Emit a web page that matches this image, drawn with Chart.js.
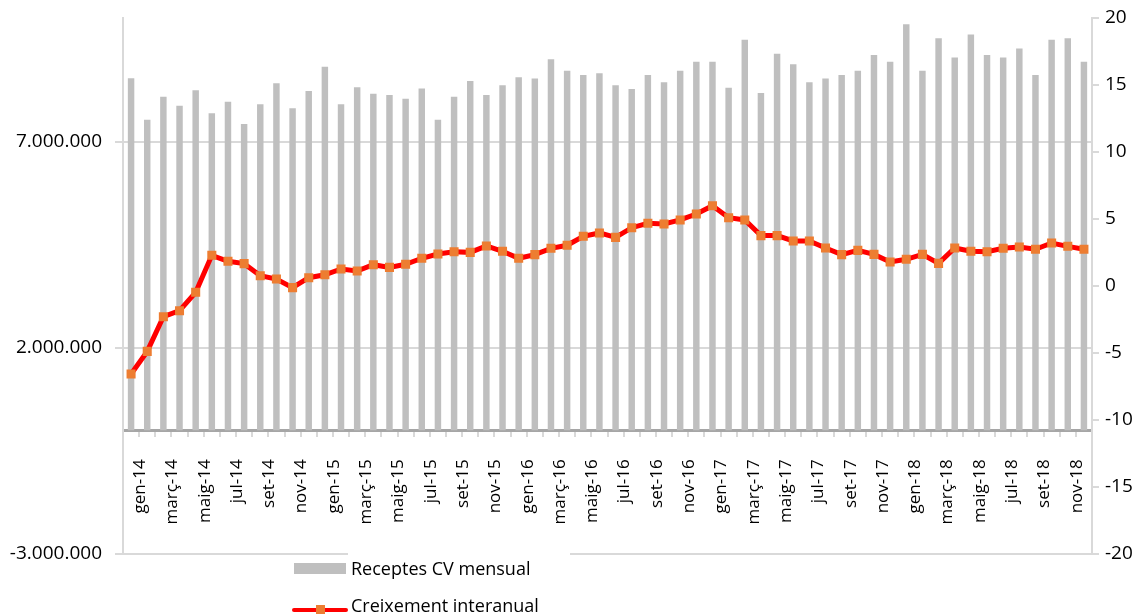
<!DOCTYPE html>
<html>
<head>
<meta charset="utf-8">
<script src="https://cdn.jsdelivr.net/npm/chart.js@4/dist/chart.umd.min.js"></script>
<style>
  html, body { margin: 0; padding: 0; background: #fff; }
  #wrap { position: relative; width: 1139px; height: 614px; overflow: hidden; }
  #chart { position: absolute; left: 0; top: 0; }
  .leg { position: absolute; font-family: 'Open Sans', sans-serif; font-size: 18px; color: #000; line-height: 24px; white-space: nowrap; }
</style>
</head>
<body>
<div id="wrap">
  <canvas id="chart" width="1139" height="614"></canvas>
  <!-- tapa la línia inferior sota la llegenda, com a l'original -->
  <div style="position:absolute;left:348px;top:550px;width:222px;height:64px;background:#fff;"></div>
  <div style="position:absolute;left:294px;top:563px;width:52px;height:11px;background:#bfbfbf;"></div>
  <div class="leg" style="left:351px;top:556px;">Receptes CV mensual</div>
  <div style="position:absolute;left:292px;top:608px;width:56px;height:4px;background:#ff0000;border-radius:2px;"></div>
  <div style="position:absolute;left:316px;top:605px;width:9px;height:9px;background:#ed7d31;"></div>
  <div class="leg" style="left:351px;top:593px;">Creixement interanual</div>
</div>
<script>
// Mesos (gen-14 ... des-18)
const monthNames = ['gen', 'febr', 'març', 'abr', 'maig', 'juny', 'jul', 'ag', 'set', 'oct', 'nov', 'des'];
const years = ['14', '15', '16', '17', '18'];
const labels = [];
years.forEach(y => monthNames.forEach(m => labels.push(m + '-' + y)));

// Receptes CV mensual
const receptes = [
  8540000, 7530000, 8090000, 7870000, 8250000, 7690000, 7970000, 7430000, 7910000, 8420000, 7810000, 8230000,
  8820000, 7910000, 8320000, 8160000, 8130000, 8040000, 8290000, 7530000, 8090000, 8470000, 8130000, 8370000,
  8560000, 8530000, 9000000, 8720000, 8620000, 8660000, 8370000, 8280000, 8620000, 8440000, 8720000, 8940000,
  8940000, 8310000, 9470000, 8180000, 9130000, 8880000, 8440000, 8530000, 8620000, 8720000, 9100000, 8940000,
  9850000, 8720000, 9510000, 9040000, 9600000, 9100000, 9040000, 9260000, 8620000, 9470000, 9510000, 8940000
];

// Creixement interanual (%)
const creixement = [
  -6.57, -4.88, -2.29, -1.84, -0.47, 2.29, 1.84, 1.67, 0.77, 0.52, -0.12, 0.62,
  0.84, 1.27, 1.12, 1.59, 1.39, 1.62, 2.07, 2.39, 2.56, 2.51, 2.99, 2.59,
  2.07, 2.34, 2.81, 3.04, 3.71, 3.96, 3.63, 4.35, 4.68, 4.63, 4.93, 5.37,
  5.99, 5.10, 4.93, 3.76, 3.76, 3.36, 3.36, 2.84, 2.34, 2.66, 2.36, 1.79,
  1.99, 2.36, 1.69, 2.84, 2.59, 2.56, 2.81, 2.91, 2.74, 3.21, 2.96, 2.74
];

// Eixos
const leftTicks = [-3000000, 2000000, 7000000];
const leftMin = -3000000;
const leftMax = 10000000;
const rightMin = -20;
const rightMax = 20;
const rightStep = 5;

const fmt = v => {
  const s = Math.abs(v).toString().replace(/\B(?=(\d{3})+(?!\d))/g, '.');
  return (v < 0 ? '-' : '') + s;
};

const font = { family: "'Open Sans', sans-serif", size: 19 };

// sense marge extra per les etiquetes dels extrems
const fitY = w => s => { s.width = w; s.paddingTop = 0; s.paddingBottom = 0; };

new Chart(document.getElementById('chart'), {
  data: {
    labels,
    datasets: [
      {
        type: 'line',
        label: 'Creixement interanual',
        data: creixement,
        yAxisID: 'y1',
        borderColor: '#ff0000',
        borderWidth: 5,
        pointStyle: 'rect',
        pointRadius: 6.4,
        pointBackgroundColor: '#ed7d31',
        pointBorderWidth: 0,
        tension: 0,
        order: 0
      },
      {
        type: 'bar',
        label: 'Receptes CV mensual',
        data: receptes,
        yAxisID: 'y',
        backgroundColor: '#bfbfbf',
        barPercentage: 0.4,
        categoryPercentage: 1.0,
        order: 1
      }
    ]
  },
  options: {
    responsive: false,
    animation: false,
    devicePixelRatio: 1,
    layout: { padding: { top: 18, bottom: 60, left: 0, right: 0 } },
    plugins: { legend: { display: false }, tooltip: { enabled: false } },
    scales: {
      x: {
        position: { y: 0 },
        afterFit: s => { s.height = 0; },
        grid: { drawOnChartArea: false, drawTicks: true, tickLength: 5, color: '#d9d9d9', lineWidth: 2 },
        border: { display: true, color: '#a6a6a6', width: 3 },
        ticks: {
          autoSkip: false,
          minRotation: 90,
          maxRotation: 90,
          padding: 24,
          labelOffset: 9,
          color: '#000',
          font: { family: "'Open Sans', sans-serif", size: 17 },
          callback: (v, i) => (i % 2 === 0 ? labels[i] : '')
        }
      },
      y: {
        position: 'left',
        min: leftMin,
        max: leftMax,
        afterFit: fitY(123),
        afterBuildTicks: s => { s.ticks = leftTicks.map(v => ({ value: v })); },
        grid: { color: '#d9d9d9', lineWidth: 2, tickLength: 8 },
        border: { display: true, color: '#d9d9d9', width: 2 },
        ticks: { padding: 13, color: '#000', font, callback: v => fmt(v) }
      },
      y1: {
        position: 'right',
        min: rightMin,
        max: rightMax,
        afterFit: fitY(47),
        grid: { drawOnChartArea: false, color: '#d9d9d9', lineWidth: 2, tickLength: 7 },
        border: { display: true, color: '#d9d9d9', width: 2 },
        ticks: { stepSize: rightStep, padding: 6, color: '#000', font }
      }
    }
  }
});
</script>
</body>
</html>
